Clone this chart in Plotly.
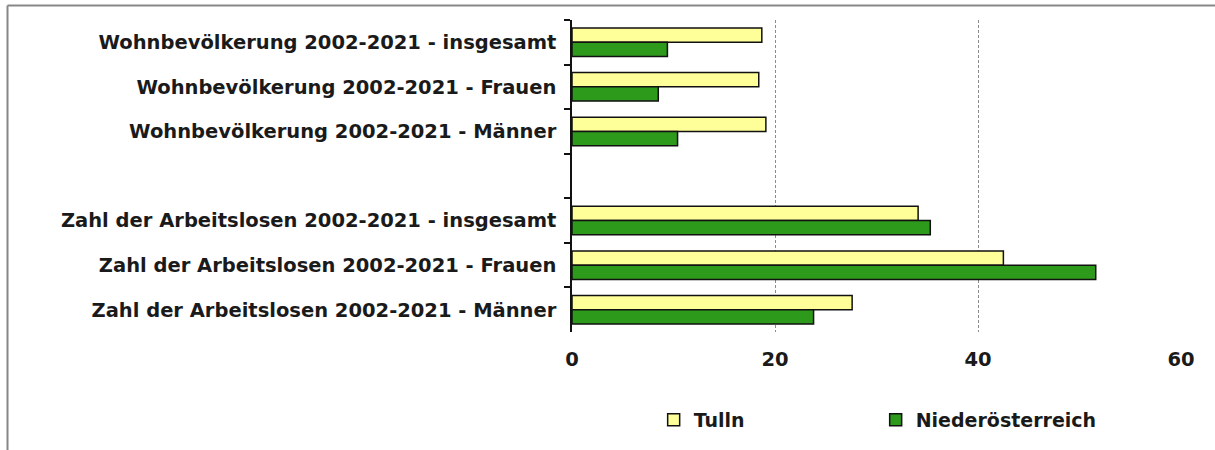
import plotly.graph_objects as go

categories = [
    "Wohnbevölkerung 2002-2021 - insgesamt",
    "Wohnbevölkerung 2002-2021 - Frauen",
    "Wohnbevölkerung 2002-2021 - Männer",
    " ",
    "Zahl der Arbeitslosen 2002-2021 - insgesamt",
    "Zahl der Arbeitslosen 2002-2021 - Frauen",
    "Zahl der Arbeitslosen 2002-2021 - Männer",
]
tulln = [18.7, 18.4, 19.1, None, 34.1, 42.5, 27.6]
noe = [9.4, 8.5, 10.4, None, 35.3, 51.6, 23.8]
x_ticks = [0, 20, 40, 60]

FONT = "DejaVu Sans"
W, H = 1215, 450
L, R, T, B = 572, 34, 20, 118
PW, PH = W - L - R, H - T - B

fig = go.Figure()
fig.add_trace(go.Bar(
    y=categories, x=tulln, orientation="h", name="Tulln",
    marker=dict(color="#FFFF99", line=dict(color="#111111", width=1.5)),
))
fig.add_trace(go.Bar(
    y=categories, x=noe, orientation="h", name="Niederösterreich",
    marker=dict(color="#2E9A1C", line=dict(color="#111111", width=1.5)),
))

fig.update_layout(
    width=W, height=H,
    margin=dict(l=L, r=R, t=T, b=B, pad=0),
    paper_bgcolor="white", plot_bgcolor="white",
    barmode="group", bargap=0.36, bargroupgap=0,
    font=dict(family=FONT, size=19.5, color="#1a1a1a", weight="bold"),
    showlegend=True,
    legend=dict(
        orientation="h", xref="container", yref="container",
        x=0.538, y=0.067, xanchor="left", yanchor="middle",
        entrywidth=177, entrywidthmode="pixels",
        font=dict(family=FONT, size=19, color="#1a1a1a", weight="bold"),
        itemwidth=30, tracegroupgap=0,
    ),
    xaxis=dict(
        range=[0, 60], tickvals=x_ticks, showgrid=True,
        gridcolor="#8c8c8c", griddash="3px,2px", gridwidth=1,
        zeroline=False, showline=False, ticks="",
        ticklabelstandoff=13,
    ),
    yaxis=dict(
        categoryorder="array", categoryarray=categories,
        autorange="reversed", showline=True, linecolor="#111111", linewidth=1.5,
        ticks="outside", tickson="boundaries", ticklen=6, tickcolor="#111111",
        tickwidth=1.5, showgrid=False, ticklabelstandoff=10,
    ),
    shapes=[
        dict(type="line", xref="paper", yref="paper", x0=(7.5 - L) / PW, x1=(W - L) / PW,
             y0=1 + (T - 5.5) / PH, y1=1 + (T - 5.5) / PH,
             line=dict(color="#888888", width=2)),
        dict(type="line", xref="paper", yref="paper", x0=(7.5 - L) / PW, x1=(7.5 - L) / PW,
             y0=1 + (T - 5.5) / PH, y1=-B / PH,
             line=dict(color="#888888", width=2)),
    ],
)

fig.write_html("out.html", config={"displayModeBar": False},
               post_script="document.body.style.margin='0';")
